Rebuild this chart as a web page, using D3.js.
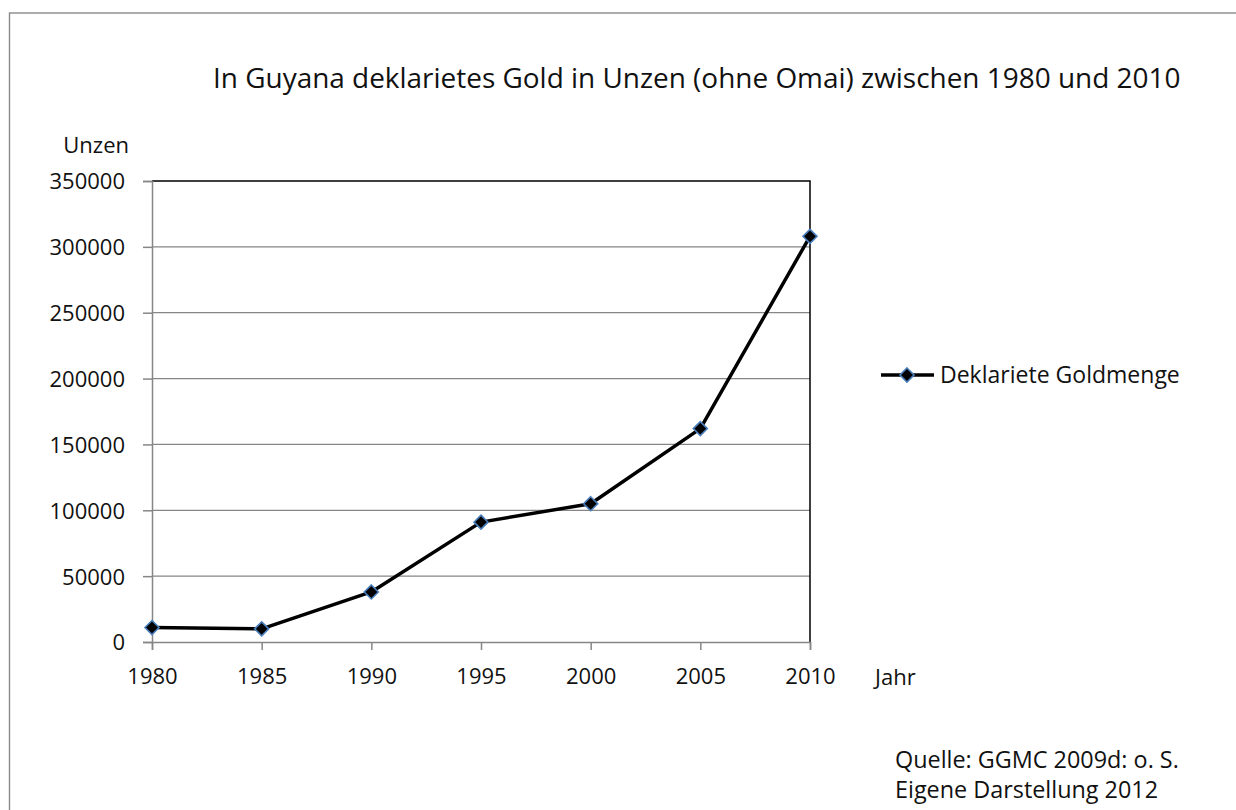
<!DOCTYPE html>
<meta charset="utf-8">
<script src="https://d3js.org/d3.v7.min.js"></script>
<style>
  body { margin: 0; background: #fff; }
  text { font-family: "Open Sans", "Liberation Sans", sans-serif; fill: #111; }
</style>
<svg id="chart" width="1236" height="810"></svg>
<script>
// data
var years = [1980, 1985, 1990, 1995, 2000, 2005, 2010];
var ounces = [11000, 10000, 38000, 91000, 105000, 162000, 308000];
var yTicks = [0, 50000, 100000, 150000, 200000, 250000, 300000, 350000];
var seriesName = "Deklariete Goldmenge";
var titleText = "In Guyana deklarietes Gold in Unzen (ohne Omai) zwischen 1980 und 2010";
var sourceLines = ["Quelle: GGMC 2009d: o. S.", "Eigene Darstellung 2012"];

var svg = d3.select("#chart");

// shrink/grow a text so it spans a given width
function fitWidth(sel, w) {
    var len = sel.node().getComputedTextLength();
    var fs = parseFloat(sel.style("font-size"));
    sel.style("font-size", (fs * w / len) + "px");
}

// outer frame
svg.append("rect")
    .attr("x", 9.5).attr("y", 13)
    .attr("width", 1240).attr("height", 810)
    .attr("fill", "none")
    .attr("stroke", "#8a8a8a")
    .attr("stroke-width", 1.4);

var margin = {left: 152, top: 181, right: 810, bottom: 642};

var x = d3.scaleLinear().domain([1980, 2010]).range([margin.left, margin.right]);
var y = d3.scaleLinear().domain([0, 350000]).range([margin.bottom, margin.top]);

// gridlines
svg.append("g")
    .selectAll("line")
    .data(yTicks.filter(function(d) { return d > 0 && d < 350000; }))
    .enter().append("line")
    .attr("x1", margin.left).attr("x2", margin.right)
    .attr("y1", function(d) { return y(d); })
    .attr("y2", function(d) { return y(d); })
    .attr("stroke", "#868686")
    .attr("stroke-width", 1.3);

// top + right border of plot area (black)
svg.append("path")
    .attr("d", "M" + margin.left + "," + y(350000) + "H" + x(2010) + "V" + y(0))
    .attr("fill", "none")
    .attr("stroke", "#000")
    .attr("stroke-width", 1.5);

// y axis
var yAxis = svg.append("g")
    .attr("transform", "translate(" + margin.left + ",0)")
    .call(d3.axisLeft(y).tickValues(yTicks).tickSize(9).tickPadding(18).tickFormat(d3.format("d")));
yAxis.select(".domain").attr("stroke", "#868686").attr("stroke-width", 1.5);
yAxis.selectAll(".tick line").attr("stroke", "#868686").attr("stroke-width", 1.5);
yAxis.selectAll("text").style("font-size", "22px").attr("fill", "#111").attr("dy", "0.36em");

// x axis
var xAxis = svg.append("g")
    .attr("transform", "translate(0," + margin.bottom + ")")
    .call(d3.axisBottom(x).tickValues(years).tickSize(8).tickPadding(6).tickFormat(d3.format("d")));
xAxis.select(".domain").attr("stroke", "#868686").attr("stroke-width", 1.5);
xAxis.selectAll(".tick line").attr("stroke", "#868686").attr("stroke-width", 1.5);
xAxis.selectAll("text").style("font-size", "22px").attr("fill", "#111")
    .attr("y", 0).attr("dy", 0).attr("transform", "translate(0,42)");
svg.selectAll("g").attr("font-family", null);

// series line
var data = years.map(function(yr, i) { return {year: yr, value: ounces[i]}; });
svg.append("path")
    .datum(data)
    .attr("fill", "none")
    .attr("stroke", "#000")
    .attr("stroke-width", 3.5)
    .attr("stroke-linejoin", "round")
    .attr("d", d3.line().x(function(d) { return x(d.year); }).y(function(d) { return y(d.value); }));

var diamond = d3.symbol().type(d3.symbolDiamond2).size(125);
svg.append("g")
    .selectAll("path")
    .data(data)
    .enter().append("path")
    .attr("transform", function(d) { return "translate(" + x(d.year) + "," + y(d.value) + ")"; })
    .attr("d", diamond)
    .attr("fill", "#000")
    .attr("stroke", "#4a7ebb")
    .attr("stroke-width", 1.6);

// title & axis titles
var title = svg.append("text")
    .attr("x", 213).attr("y", 88)
    .style("font-size", "28px")
    .text(titleText);
fitWidth(title, 968);

svg.append("text")
    .attr("x", 129).attr("y", 153)
    .attr("text-anchor", "end")
    .style("font-size", "22px")
    .text("Unzen");

svg.append("text")
    .attr("x", 875).attr("y", 685)
    .style("font-size", "22px")
    .text("Jahr");

// legend
var lg = svg.append("g").attr("transform", "translate(881,375)");
lg.append("line").attr("x1", 0).attr("x2", 53).attr("y1", 0).attr("y2", 0)
    .attr("stroke", "#000").attr("stroke-width", 3.5);
lg.append("path").attr("transform", "translate(26,0)").attr("d", diamond)
    .attr("fill", "#000").attr("stroke", "#4a7ebb").attr("stroke-width", 1.6);
var lgText = lg.append("text").attr("x", 59).attr("y", 0).attr("dy", "0.36em")
    .style("font-size", "23px")
    .text(seriesName);
fitWidth(lgText, 240);

// source note
var src = svg.append("g").selectAll("text")
    .data(sourceLines)
    .enter().append("text")
    .attr("x", 895)
    .attr("y", function(d, i) { return 768 + i * 30; })
    .style("font-size", "22px")
    .text(function(d) { return d; });
fitWidth(d3.select(src.nodes()[0]), 284);
d3.select(src.nodes()[1]).style("font-size", d3.select(src.nodes()[0]).style("font-size"));
</script>
